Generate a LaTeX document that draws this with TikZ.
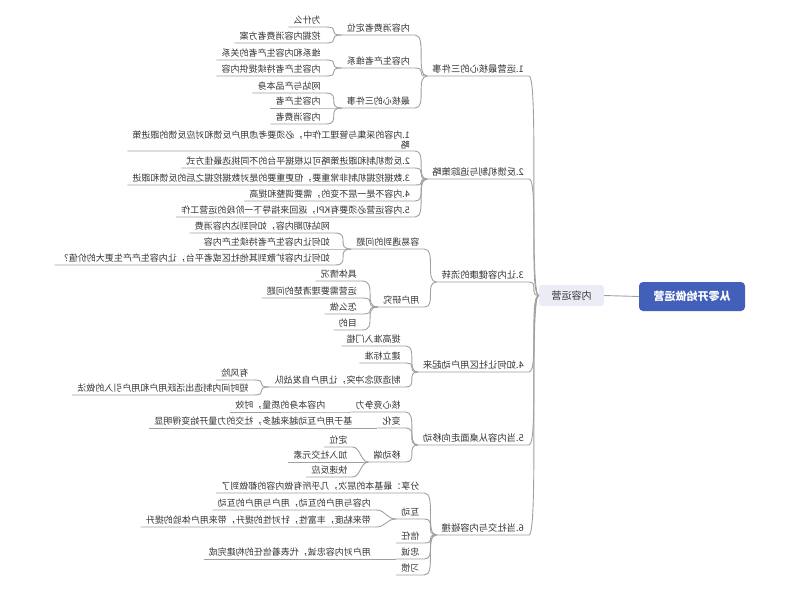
\documentclass[tikz,border=0pt]{standalone}
\usepackage{fontspec}
\setmainfont{Noto Sans CJK SC}
\usetikzlibrary{positioning}
\definecolor{rootblue}{RGB}{66,96,186}
\definecolor{mainfill}{RGB}{235,236,245}
\definecolor{linegray}{RGB}{160,160,160}
\definecolor{textgray}{RGB}{51,51,51}

\begin{document}
\begin{tikzpicture}[x=1pt, y=-1pt,
  topic/.style={xscale=-1, anchor=south west, inner xsep=5pt, inner ysep=1.5pt,
    text height=7.5pt, text depth=1.5pt, font=\fontsize{9}{10.5}\selectfont, text=textgray},
  kid/.style={xshift=-#1, topic},
  link/.style={draw=linegray, line width=0.9pt}]
\useasboundingbox (0,0) rectangle (800,598);

% root and the main topic
\node[xscale=-1, fill=rootblue, rounded corners=4pt, minimum width=106pt, minimum height=29pt,
  text=white, font=\fontsize{11}{13}\selectfont\bfseries] (root) at (692,296.5) {从零开始做运营};
\node[xscale=-1, fill=mainfill, rounded corners=3pt, minimum width=65pt, minimum height=21pt,
  text=textgray, font=\fontsize{10}{12}\selectfont] (main) at (571.5,295.5) {内容运营};
\draw[link] (main.west) -- (root.east);

% first level
\foreach \t/\y [count=\i] in {1.运营最核心的三件事/76, 2.反馈机制与追踪策略/179, 3.让内容健康的流转/282,
    4.如何让社区用户动起来/372, 5.当内容从桌面走向移动/445, 6.当社交与内容碰撞/535}
{
  \node[topic, font=\fontsize{9.3}{11}\selectfont] (b\i) at (529,\y) {\t};
  \draw[link] (b\i.south east) -- (b\i.south west) .. controls +(10,0) and +(-10,0) .. (main.east);
}

% 1.
\foreach \t/\y [count=\j] in {内容消费者定位/35, 内容生产者维系/68, 最核心的三件事/108}
{
  \node[kid=12pt] (b1-\j) at (b1.south east |- 0,\y) {\t};
  \draw[link] (b1-\j.south east) -- (b1-\j.south west) .. controls +(12,0) and +(-12,0) .. (b1.south east);
}
\foreach \t/\y [count=\k] in {为什么/27, 挖掘内容消费者方案/43}
{
  \node[kid=16pt] (b1-1-\k) at (b1-1.south east |- 0,\y) {\t};
  \draw[link] (b1-1-\k.south east) -- (b1-1-\k.south west) .. controls +(16,0) and +(-16,0) .. (b1-1.south east);
}
\foreach \t/\y [count=\k] in {维系和内容生产者的关系/60, 内容生产者持续提供内容/76}
{
  \node[kid=16pt] (b1-2-\k) at (b1-2.south east |- 0,\y) {\t};
  \draw[link] (b1-2-\k.south east) -- (b1-2-\k.south west) .. controls +(16,0) and +(-16,0) .. (b1-2.south east);
}
\foreach \t/\y [count=\k] in {网站与产品本身/93, 内容生产者/108, 内容消费者/124}
{
  \node[kid=16pt] (b1-3-\k) at (b1-3.south east |- 0,\y) {\t};
  \draw[link] (b1-3-\k.south east) -- (b1-3-\k.south west) .. controls +(16,0) and +(-16,0) .. (b1-3.south east);
}

% 2.
\node[kid=12pt, align=left, text height=, text depth=] (b2-1) at (b2.south east |- 0,151)
  {1.内容的采集与管理工作中，必须要考虑用户反馈和对应反馈的跟进策\\略};
\foreach \t/\y [count=\j from 2] in {2.反馈机制和跟进策略可以根据平台的不同挑选最佳方式/168,
    3.数据挖掘机制非常重要，但更重要的是对数据挖掘之后的反馈和跟进/185,
    4.内容不是一层不变的，需要调整和提高/201, 5.内容运营必须要有KPI，返回来指导下一阶段的运营工作/217}
  \node[kid=12pt] (b2-\j) at (b2.south east |- 0,\y) {\t};
\foreach \j in {1,...,5}
  \draw[link] (b2-\j.south east) -- (b2-\j.south west) .. controls +(12,0) and +(-12,0) .. (b2.south east);

% 3.
\foreach \t/\y [count=\j] in {容易遇到的问题/249, 用户研究/307}
{
  \node[kid=12pt] (b3-\j) at (b3.south east |- 0,\y) {\t};
  \draw[link] (b3-\j.south east) -- (b3-\j.south west) .. controls +(12,0) and +(-12,0) .. (b3.south east);
}
\foreach \t/\y [count=\k] in {网站初期内容，如何到达内容消费/233, 如何让内容生产者持续生产内容/249,
    如何让内容扩散到其他社区或者平台，让内容生产产生更大的价值？/265}
{
  \node[kid=16pt] (b3-1-\k) at (b3-1.south east |- 0,\y) {\t};
  \draw[link] (b3-1-\k.south east) -- (b3-1-\k.south west) .. controls +(16,0) and +(-16,0) .. (b3-1.south east);
}
\foreach \t/\y [count=\k] in {具体情况/281, 运营需要理清楚的问题/298, 怎么做/314, 目的/330}
{
  \node[kid=16pt] (b3-2-\k) at (b3-2.south east |- 0,\y) {\t};
  \draw[link] (b3-2-\k.south east) -- (b3-2-\k.south west) .. controls +(16,0) and +(-16,0) .. (b3-2.south east);
}

% 4.
\foreach \t/\y [count=\j] in {提高准入门槛/346, 建立标准/363, 制造观念冲突，让用户自发战队/387}
{
  \node[kid=12pt] (b4-\j) at (b4.south east |- 0,\y) {\t};
  \draw[link] (b4-\j.south east) -- (b4-\j.south west) .. controls +(12,0) and +(-12,0) .. (b4.south east);
}
\foreach \t/\y [count=\k] in {有风险/380, 短时间内制造出活跃用户和用户引入的做法/395}
{
  \node[kid=16pt] (b4-3-\k) at (b4-3.south east |- 0,\y) {\t};
  \draw[link] (b4-3-\k.south east) -- (b4-3-\k.south west) .. controls +(16,0) and +(-16,0) .. (b4-3.south east);
}

% 5.
\foreach \t/\y [count=\j] in {核心竞争力/412, 变化/428, 移动端/462}
{
  \node[kid=12pt] (b5-\j) at (b5.south east |- 0,\y) {\t};
  \draw[link] (b5-\j.south east) -- (b5-\j.south west) .. controls +(12,0) and +(-12,0) .. (b5.south east);
}
\node[kid=20pt] (b5-1-1) at (b5-1.south east |- 0,412) {内容本身的质量，时效};
\node[kid=20pt] (b5-2-1) at (b5-2.south east |- 0,428) {基于用户互动越来越多，社交的力量开始变得明显};
\foreach \t/\y [count=\k] in {定位/447, 加入社交元素/462, 快速反应/477}
  \node[kid=16pt] (b5-3-\k) at (b5-3.south east |- 0,\y) {\t};
\foreach \p/\k in {b5-1/1, b5-2/1, b5-3/1, b5-3/2, b5-3/3}
  \draw[link] (\p-\k.south east) -- (\p-\k.south west) .. controls +(8,0) and +(-8,0) .. (\p.south east);

% 6.
\foreach \t/\y [count=\j] in {分享：最基本的层次，几乎所有做内容的都做到了/493, 互动/519, 信任/543, 忠诚/559, 习惯/575}
{
  \node[kid=12pt] (b6-\j) at (b6.south east |- 0,\y) {\t};
  \draw[link] (b6-\j.south east) -- (b6-\j.south west) .. controls +(12,0) and +(-12,0) .. (b6.south east);
}
\foreach \t/\y [count=\k] in {内容与用户的互动，用户与用户的互动/510, 带来粘度，丰富性，针对性的提升，带来用户体验的提升/527}
  \node[kid=20pt] (b6-2-\k) at (b6-2.south east |- 0,\y) {\t};
\node[kid=20pt] (b6-4-1) at (b6-4.south east |- 0,559) {用户对内容忠诚，代表着信任的构建完成};
\foreach \p/\k in {b6-2/1, b6-2/2, b6-4/1}
  \draw[link] (\p-\k.south east) -- (\p-\k.south west) .. controls +(10,0) and +(-10,0) .. (\p.south east);
\end{tikzpicture}
\end{document}
